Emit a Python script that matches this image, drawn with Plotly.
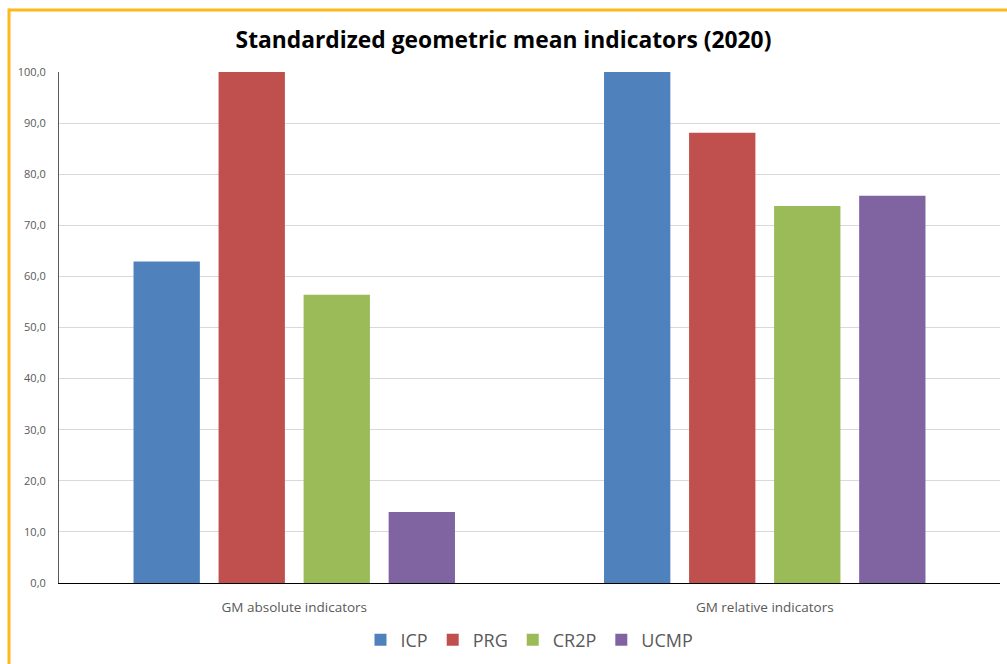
import plotly.graph_objects as go

categories = ["GM absolute indicators", "GM relative indicators"]
series_names = ["ICP", "PRG", "CR2P", "UCMP"]
icp = [62.9, 100.0]
prg = [100.0, 88.1]
cr2p = [56.4, 73.8]
ucmp = [13.9, 75.8]
colors = ["#4F81BD", "#C0504D", "#9BBB59", "#8064A2"]
y_ticks = [0, 10, 20, 30, 40, 50, 60, 70, 80, 90, 100]

fig = go.Figure()
for name, vals, col in zip(series_names, [icp, prg, cr2p, ucmp], colors):
    fig.add_trace(go.Bar(
        name=name, x=categories, y=vals,
        marker=dict(color=col, line=dict(width=0)),
    ))

W, H = 1007, 664
L, R, T, B = 59, 7, 72, 80
pw, ph = W - L - R, H - T - B

def px_x(x):
    return (x - L) / pw

def px_y(y):
    return (H - B - y) / ph

fig.update_layout(
    width=W, height=H,
    margin=dict(l=L, r=R, t=T, b=B),
    paper_bgcolor="white", plot_bgcolor="white",
    separators=",.",
    barmode="group", bargap=0.277, bargroupgap=0.22,
    title=dict(
        text="<b>Standardized geometric mean indicators (2020)</b>",
        x=0.5, xanchor="center", y=1 - 40 / H, yanchor="middle",
        font=dict(family="Open Sans, Liberation Sans, sans-serif", size=22.8, color="black"),
    ),
    font=dict(family="Open Sans, Liberation Sans, sans-serif", color="#595959"),
    xaxis=dict(
        showline=True, linecolor="black", linewidth=1,
        ticks="", tickfont=dict(size=13.5, color="#595959"),
        ticklabelstandoff=12,
        showgrid=False,
    ),
    yaxis=dict(
        range=[0, 100], tickvals=y_ticks, tickformat=".1f",
        showline=True, linecolor="#595959", linewidth=1,
        gridcolor="#D9D9D9", gridwidth=1,
        tickfont=dict(size=11, color="#595959"),
        ticklabelstandoff=10,
        ticks="", zeroline=False,
    ),
    legend=dict(
        orientation="h", x=0.5, xanchor="center",
        y=px_y(640), yanchor="middle",
        font=dict(size=18, color="#595959"),
        itemwidth=30, traceorder="normal",
    ),
    showlegend=True,
)

# orange frame edges (top and left)
fig.add_shape(type="line", xref="paper", yref="paper",
              x0=px_x(9), x1=px_x(1010), y0=px_y(10), y1=px_y(10),
              line=dict(color="#FFB81C", width=3), layer="above")
fig.add_shape(type="line", xref="paper", yref="paper",
              x0=px_x(9), x1=px_x(9), y0=px_y(8.5), y1=px_y(670),
              line=dict(color="#FFB81C", width=3), layer="above")

fig.write_html("out.html")
